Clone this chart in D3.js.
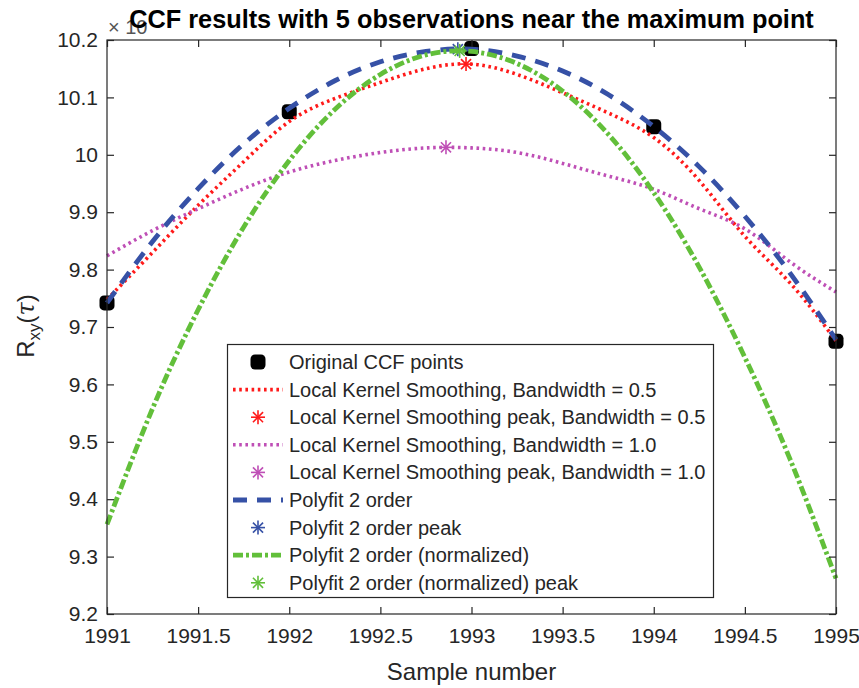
<!DOCTYPE html>
<html><head><meta charset="utf-8">
<script src="https://cdn.jsdelivr.net/npm/d3@7"></script>
<style>body{margin:0;background:#fff}text{font-family:"Liberation Sans",Arial,Helvetica,sans-serif}</style>
</head><body><svg id="c" width="859" height="688"></svg>
<script>
// ---- data ----
const sampleX  = [1991,1991.25,1991.5,1991.75,1992,1992.25,1992.5,1992.75,1993,1993.25,1993.5,1993.75,1994,1994.25,1994.5,1994.75,1995];
const kernel05 = [9.748,9.830,9.912,9.988,10.058,10.098,10.126,10.150,10.158,10.140,10.108,10.073,10.030,9.955,9.858,9.776,9.676];
const kernel10 = [9.824,9.868,9.906,9.941,9.970,9.990,10.004,10.012,10.012,10.004,9.985,9.963,9.940,9.906,9.871,9.813,9.761];
const poly2    = [9.742,9.849,9.941,10.019,10.081,10.129,10.162,10.180,10.184,10.172,10.146,10.105,10.049,9.979,9.893,9.793,9.678];
const poly2n   = [9.356,9.558,9.730,9.874,9.990,10.079,10.140,10.174,10.180,10.159,10.111,10.036,9.934,9.804,9.647,9.468,9.262];
const pointsX  = [1991,1992,1993,1994,1995];
const pointsY  = [9.742,10.075,10.185,10.049,9.675];
const peakK05  = [1992.97,10.158];
const peakK10  = [1992.86,10.013];
const peakP2   = [1992.925,10.184];
const peakP2n  = [1992.935,10.181];
const xTicks   = [1991,1991.5,1992,1992.5,1993,1993.5,1994,1994.5,1995];
const yTicks   = [9.2,9.3,9.4,9.5,9.6,9.7,9.8,9.9,10,10.1,10.2];
const legendLabels = ["Original CCF points","Local Kernel Smoothing, Bandwidth = 0.5","Local Kernel Smoothing peak, Bandwidth = 0.5","Local Kernel Smoothing, Bandwidth = 1.0","Local Kernel Smoothing peak, Bandwidth = 1.0","Polyfit 2 order","Polyfit 2 order peak","Polyfit 2 order (normalized)","Polyfit 2 order (normalized) peak"];

// ---- styles ----
const C = {red:"#ff1a1a", mag:"#bf4fb6", blue:"#3651a6", green:"#62bf3a", axis:"#262626"};
const L = 107, R = 836, T = 40, B = 614;
const svg = d3.select("#c");
const x = d3.scaleLinear().domain([1991,1995]).range([L,R]);
const y = d3.scaleLinear().domain([9.2,10.2]).range([B,T]);

// exponent label (partly behind title, as in the reference)
svg.append("text").attr("x",108).attr("y",34).attr("fill","#555").attr("font-size",20).text("\u00d7 10");

const line = d3.line().x(d=>x(d[0])).y(d=>y(d[1])).curve(d3.curveNatural);
const zip = arr => sampleX.map((v,i)=>[v,arr[i]]);

function star(g, cx, cy, color, r=7){
  const s = g.append("g").attr("transform",`translate(${cx},${cy})`).attr("stroke",color).attr("stroke-width",1.6);
  s.append("line").attr("x1",-r).attr("x2",r).attr("y1",0).attr("y2",0);
  s.append("line").attr("x1",0).attr("x2",0).attr("y1",-r).attr("y2",r);
  const d = r*0.72;
  s.append("line").attr("x1",-d).attr("x2",d).attr("y1",-d).attr("y2",d);
  s.append("line").attr("x1",-d).attr("x2",d).attr("y1",d).attr("y2",-d);
}
function dot(g, cx, cy){
  g.append("rect").attr("x",cx-7.5).attr("y",cy-7.5).attr("width",15).attr("height",15).attr("rx",4.5).attr("fill","#000");
}

const plot = svg.append("g");
const styles = {
  k05:{stroke:C.red, w:3.6, dash:"2.6,3.6"},
  k10:{stroke:C.mag, w:3.6, dash:"2.6,3.6"},
  p2:{stroke:C.blue, w:4.8, dash:"14,10"},
  p2n:{stroke:C.green, w:4.8, dash:"10,3,3,3"}
};
// original points
pointsX.forEach((v,i)=>dot(plot, x(v), y(pointsY[i])));
function drawLine(arr, st){
  plot.append("path").datum(zip(arr)).attr("d",line).attr("fill","none")
    .attr("stroke",st.stroke).attr("stroke-width",st.w).attr("stroke-dasharray",st.dash);
}
drawLine(kernel05, styles.k05); star(plot, x(peakK05[0]), y(peakK05[1]), C.red);
drawLine(kernel10, styles.k10); star(plot, x(peakK10[0]), y(peakK10[1]), C.mag);
drawLine(poly2, styles.p2);     star(plot, x(peakP2[0]), y(peakP2[1]), C.blue);
drawLine(poly2n, styles.p2n);   star(plot, x(peakP2n[0]), y(peakP2n[1]), C.green);

// axes (box with inward ticks)
const ax = svg.append("g");
ax.append("rect").attr("x",L).attr("y",T).attr("width",R-L).attr("height",B-T).attr("fill","none").attr("stroke",C.axis).attr("stroke-width",1.2);
const gB = ax.append("g").attr("transform",`translate(0,${B})`).call(d3.axisBottom(x).tickValues(xTicks).tickSizeInner(-7).tickSizeOuter(0).tickPadding(14).tickFormat(d3.format("")));
const gT = ax.append("g").attr("transform",`translate(0,${T})`).call(d3.axisTop(x).tickValues(xTicks).tickSizeInner(-7).tickSizeOuter(0).tickFormat(""));
const gL = ax.append("g").attr("transform",`translate(${L},0)`).call(d3.axisLeft(y).tickValues(yTicks).tickSizeInner(-7).tickSizeOuter(0).tickPadding(9).tickFormat(d3.format("")));
const gR = ax.append("g").attr("transform",`translate(${R},0)`).call(d3.axisRight(y).tickValues(yTicks).tickSizeInner(-7).tickSizeOuter(0).tickFormat(""));
[gB,gT,gL,gR].forEach(g=>{
  g.select(".domain").remove();
  g.selectAll(".tick line").attr("stroke",C.axis).attr("stroke-width",1.2);
  g.selectAll(".tick text").attr("fill",C.axis).attr("font-size",21).attr("font-family",'"Liberation Sans",Arial,sans-serif');
});
gB.selectAll(".tick text").attr("dy","0.71em");

// title
svg.append("text").attr("x",(L+R)/2).attr("y",28).attr("text-anchor","middle").attr("font-size",25.3).attr("font-weight","bold").attr("fill","#000")
  .text("CCF results with 5 observations near the maximum point");
// x label
svg.append("text").attr("x",(L+R)/2).attr("y",680).attr("text-anchor","middle").attr("font-size",24).attr("fill",C.axis).text("Sample number");
// y label
const yl = svg.append("text").attr("transform","translate(34,326) rotate(-90)").attr("text-anchor","middle").attr("font-size",24).attr("fill",C.axis);
yl.append("tspan").text("R");
yl.append("tspan").attr("font-size",17).attr("dy",6).text("xy");
yl.append("tspan").attr("dy",-6).text("(");
yl.append("tspan").attr("font-style","italic").attr("font-family","'DejaVu Serif',serif").text("\u03c4");
yl.append("tspan").text(")");

// legend
const lg = svg.append("g");
lg.append("rect").attr("x",227.5).attr("y",344.5).attr("width",486).attr("height",253).attr("fill","#fff").attr("stroke",C.axis).attr("stroke-width",1.2);
const rowY = i => 362 + i*27.6;
const kinds = [
  {type:"pt"},{type:"line",st:styles.k05},{type:"star",c:C.red},{type:"line",st:styles.k10},{type:"star",c:C.mag},
  {type:"line",st:styles.p2},{type:"star",c:C.blue},{type:"line",st:styles.p2n},{type:"star",c:C.green}
];
legendLabels.forEach((lab,i)=>{
  const k = kinds[i], yy = rowY(i);
  if(k.type==="pt") dot(lg, 258, yy);
  else if(k.type==="line") lg.append("line").attr("x1",233).attr("x2",283).attr("y1",yy).attr("y2",yy)
     .attr("stroke",k.st.stroke).attr("stroke-width",k.st.w).attr("stroke-dasharray",k.st.dash);
  else star(lg,258,yy,k.c);
  lg.append("text").attr("x",289).attr("y",yy).attr("dy","0.35em").attr("font-size",20).attr("fill",C.axis).text(lab);
});
</script></body></html>
